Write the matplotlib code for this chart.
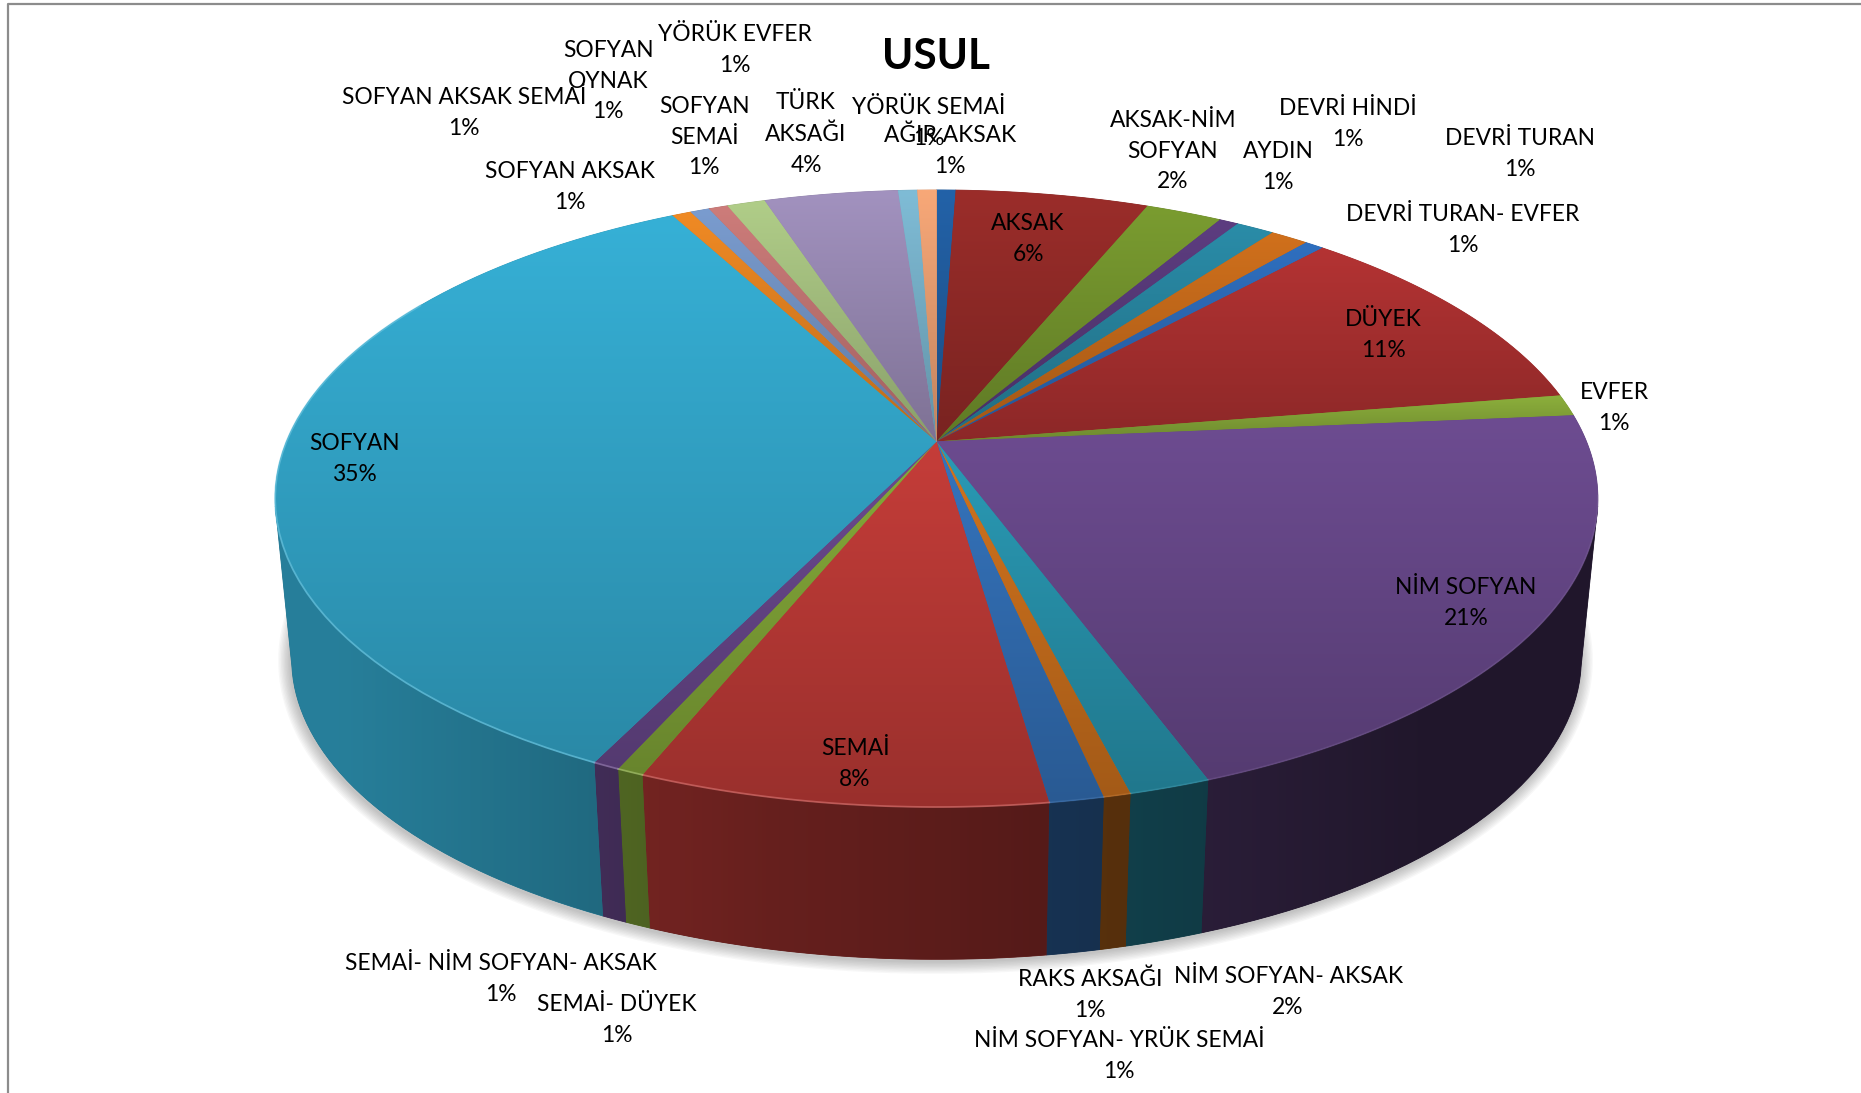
import matplotlib
matplotlib.use("Agg")
import matplotlib.pyplot as plt
from matplotlib.patches import Polygon
from matplotlib.colors import to_rgb
import numpy as np

plt.rcParams['font.family'] = ['Lato', 'DejaVu Sans']

usul = ["AĞIR AKSAK", "AKSAK", "AKSAK-NİM\nSOFYAN", "AYDIN", "DEVRİ HİNDİ", "DEVRİ TURAN",
        "DEVRİ TURAN- EVFER", "DÜYEK", "EVFER", "NİM SOFYAN", "NİM SOFYAN- AKSAK",
        "NİM SOFYAN- YRÜK SEMAİ", "RAKS AKSAĞI", "SEMAİ", "SEMAİ- DÜYEK",
        "SEMAİ- NİM SOFYAN- AKSAK", "SOFYAN", "SOFYAN AKSAK", "SOFYAN AKSAK SEMAİ",
        "SOFYAN\nOYNAK", "SOFYAN\nSEMAİ", "TÜRK\nAKSAĞI", "YÖRÜK EVFER", "YÖRÜK SEMAİ"]
counts = [1, 10.1, 4, 1, 2, 2, 1, 19.1, 2, 37.25, 3, 1, 2, 15, 1, 1, 62.55, 1, 1, 1, 2, 7, 1, 1]
colors = ["#2362a8", "#9b2d2a", "#7a9c30", "#5d3d80", "#2a8ca8", "#d0701c",
          "#2f6fbf", "#b43333", "#8db03c", "#6d4c91", "#2a9ab5", "#d2741e",
          "#3574bd", "#c53d39", "#86ab3a", "#6c4a90", "#36b0d6", "#f08a24",
          "#7a9ccf", "#cd7c7a", "#b0cd88", "#a292bf", "#7fbcd6", "#f8a878"]

# label centres, in pixels of the picture
label_x = [950, 1028, 1173, 1278, 1348, 1520, 1463, 1383, 1614, 1466, 1288, 1119, 1090,
           855, 617, 501, 355, 570, 464, 608, 704, 806, 735, 929]
label_y = [151, 239, 151, 167, 124, 154, 230, 335, 408, 603, 992, 1056, 995,
           764, 1020, 979, 459, 187, 113, 81, 137, 134, 50, 123]

W, H = 1861, 1093
CX, CY = 936.5, 441.5
A, B, K = 650.0, 298.0, 0.1847
BOTTOM_CY, BOTTOM_S = 603.0, 0.975
# part of the rim where the wall faces the viewer
FRONT_START, FRONT_END = np.radians(102), np.radians(258)


def rim(theta, bottom=False):
    # angle clockwise from the top, through the perspective of the disc
    xx = np.sin(theta)
    yy = np.cos(theta)
    w = 1 + K * yy
    px = A * xx / w
    py = -B * yy / w
    if bottom:
        return CX + BOTTOM_S * px, BOTTOM_CY + BOTTOM_S * py
    return CX + px, CY + py


def wall_factor(x):
    return np.interp(x, [340, 770, 1245, 1425, 1900], [0.72, 0.52, 0.37, 0.30, 0.30])


def gradient_fill(ax, poly, img, extent, z):
    ax.add_patch(Polygon(poly, closed=True, fc=img.mean(axis=(0, 1)), ec=img.mean(axis=(0, 1)), lw=0.6, zorder=z))
    clip = Polygon(poly, closed=True, transform=ax.transData)
    im = ax.imshow(img, extent=extent, aspect='auto', zorder=z + 0.1, interpolation='bilinear')
    im.set_clip_path(clip)


fig = plt.figure(figsize=(W / 100, H / 100), dpi=100)
ax = fig.add_axes([0, 0, 1, 1])

edges = np.cumsum([0] + counts) / sum(counts) * 2 * np.pi
percent = [f"{round(c / sum(counts) * 100):.0f}%" for c in counts]

# soft shadow under the lower edge
sx, sy = rim(np.radians(np.linspace(84, 276, 200)), bottom=True)
for lw in range(18, 1, -2):
    ax.plot(sx - 1, sy + 2, color="#555555", lw=lw, alpha=0.045, zorder=1, solid_capstyle='round')

# outer walls, only the part facing the viewer
for i in range(len(counts)):
    start = max(edges[i], FRONT_START)
    end = min(edges[i + 1], FRONT_END)
    if end <= start:
        continue
    th = np.linspace(start, end, 40)
    tx, ty = rim(th)
    bx, by = rim(th, bottom=True)
    poly = np.column_stack([np.r_[tx, bx[::-1]], np.r_[ty, by[::-1]]])
    x0, x1 = poly[:, 0].min(), poly[:, 0].max()
    y0, y1 = poly[:, 1].min(), poly[:, 1].max()
    xs = np.linspace(x0, x1, 40)
    img = np.array(to_rgb(colors[i]))[None, None, :] * wall_factor(xs)[None, :, None]
    gradient_fill(ax, poly, img, (x0, x1, y1, y0), 2)

# top of the pie
for i in range(len(counts)):
    th = np.linspace(edges[i], edges[i + 1], 80)
    tx, ty = rim(th)
    poly = np.column_stack([np.r_[CX, tx], np.r_[CY, ty]])
    x0, x1 = poly[:, 0].min(), poly[:, 0].max()
    y0, y1 = poly[:, 1].min(), poly[:, 1].max()
    fade = np.linspace(1, 0.78, 64)
    img = np.array(to_rgb(colors[i]))[None, None, :] * fade[:, None, None]
    gradient_fill(ax, poly, img, (x0, x1, y1, y0), 4)

# light bevel along the front rim
for i in range(len(counts)):
    th = np.linspace(edges[i], edges[i + 1], 60)
    keep = (th > np.radians(100)) & (th < np.radians(300))
    if keep.sum() < 2:
        continue
    tx, ty = rim(th[keep])
    light = 0.7 * np.array(to_rgb(colors[i])) + 0.3
    ax.plot(tx, ty, color=light, lw=1.3, alpha=0.6 if tx.mean() < CX else 0.2, zorder=5)

for name, pct, x, y in zip(usul, percent, label_x, label_y):
    ax.text(x, y, name + "\n" + pct, ha='center', va='center', fontsize=16.4, color="black",
            linespacing=1.58, zorder=6)

ax.text(936, 57, "USUL", ha='center', va='center', fontsize=30.5, fontweight='bold', color="black", zorder=6)

# frame of the chart area
ax.plot([8, 8, W], [H, 3.5, 3.5], color="#8c8c8c", lw=1.6, zorder=7)

ax.set_xlim(0, W)
ax.set_ylim(H, 0)
ax.axis('off')

fig.savefig("out.png", dpi=100, facecolor="white")
